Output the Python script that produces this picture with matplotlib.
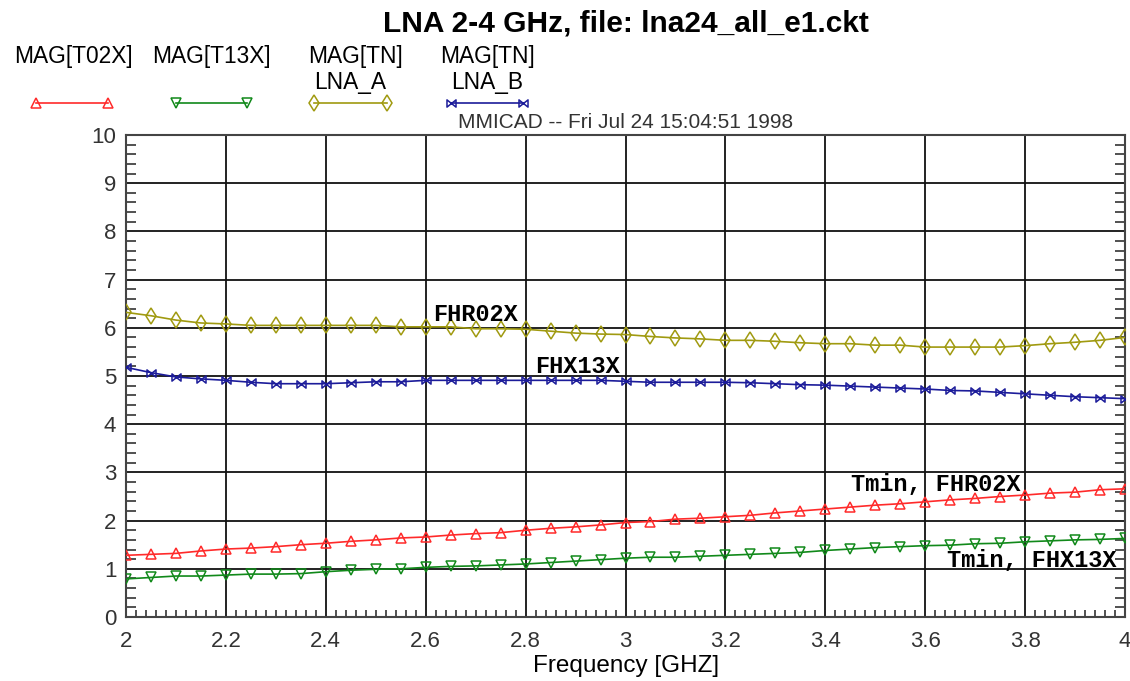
import numpy as np
import matplotlib
matplotlib.use("Agg")
import matplotlib.pyplot as plt
from matplotlib.path import Path
from matplotlib.lines import Line2D
from matplotlib.ticker import MultipleLocator

# ---------------- data ----------------
freq = [2.00, 2.05, 2.10, 2.15, 2.20, 2.25, 2.30, 2.35, 2.40, 2.45,
        2.50, 2.55, 2.60, 2.65, 2.70, 2.75, 2.80, 2.85, 2.90, 2.95,
        3.00, 3.05, 3.10, 3.15, 3.20, 3.25, 3.30, 3.35, 3.40, 3.45,
        3.50, 3.55, 3.60, 3.65, 3.70, 3.75, 3.80, 3.85, 3.90, 3.95, 4.00]

t02x = [1.28, 1.30, 1.32, 1.37, 1.41, 1.43, 1.46, 1.50, 1.53, 1.57,
        1.60, 1.64, 1.66, 1.70, 1.73, 1.75, 1.80, 1.84, 1.87, 1.91,
        1.96, 1.98, 2.03, 2.05, 2.08, 2.11, 2.16, 2.20, 2.24, 2.28,
        2.32, 2.35, 2.39, 2.43, 2.46, 2.50, 2.53, 2.57, 2.59, 2.64, 2.66]

t13x = [0.79, 0.82, 0.85, 0.85, 0.87, 0.89, 0.89, 0.90, 0.94, 0.97,
        0.99, 1.00, 1.03, 1.05, 1.06, 1.08, 1.10, 1.13, 1.16, 1.19,
        1.22, 1.24, 1.24, 1.26, 1.28, 1.30, 1.32, 1.34, 1.38, 1.41,
        1.44, 1.46, 1.48, 1.49, 1.52, 1.53, 1.56, 1.58, 1.60, 1.61, 1.63]

tn_lna_a = [6.32, 6.25, 6.16, 6.10, 6.08, 6.05, 6.05, 6.05, 6.05, 6.05,
            6.05, 6.02, 6.02, 6.02, 5.98, 5.98, 5.97, 5.93, 5.89, 5.87,
            5.86, 5.82, 5.79, 5.77, 5.74, 5.74, 5.72, 5.69, 5.67, 5.67,
            5.64, 5.64, 5.60, 5.60, 5.60, 5.60, 5.63, 5.67, 5.70, 5.74, 5.80]

tn_lna_b = [5.18, 5.07, 4.98, 4.94, 4.91, 4.87, 4.84, 4.84, 4.84, 4.86,
            4.88, 4.88, 4.91, 4.91, 4.91, 4.91, 4.91, 4.91, 4.91, 4.91,
            4.89, 4.87, 4.87, 4.87, 4.87, 4.86, 4.84, 4.82, 4.81, 4.79,
            4.77, 4.75, 4.73, 4.70, 4.69, 4.66, 4.63, 4.60, 4.57, 4.55, 4.53]

x_ticks = [2, 2.2, 2.4, 2.6, 2.8, 3, 3.2, 3.4, 3.6, 3.8, 4]
x_tick_labels = ["2", "2.2", "2.4", "2.6", "2.8", "3", "3.2", "3.4", "3.6", "3.8", "4"]
y_ticks = list(range(0, 11))

legend_labels = ["MAG[T02X]", "MAG[T13X]", "MAG[TN]\nLNA_A", "MAG[TN]\nLNA_B"]
title = "LNA 2-4 GHz, file: lna24_all_e1.ckt"
subtitle = "MMICAD -- Fri Jul 24 15:04:51 1998"
xlabel = "Frequency [GHZ]"

annotations = [("FHR02X", 2.614, 6.15), ("FHX13X", 2.820, 5.06),
               ("Tmin, FHR02X", 3.451, 2.61), ("Tmin, FHX13X", 3.644, 1.04)]

# ---------------- styles ----------------
RED = "#ff2a2a"
GREEN = "#11891a"
OLIVE = "#a09a10"
BLUE = "#1c1c9a"

bowtie = Path([(-1, -0.8), (0, 0), (-1, 0.8), (-1, -0.8),
               (1, -0.8), (0, 0), (1, 0.8), (1, -0.8)],
              [Path.MOVETO, Path.LINETO, Path.LINETO, Path.CLOSEPOLY,
               Path.MOVETO, Path.LINETO, Path.LINETO, Path.CLOSEPOLY])

series = [
    (t02x, RED, "^", 7.5),
    (t13x, GREEN, "v", 7.5),
    (tn_lna_a, OLIVE, "d", 8),
    (tn_lna_b, BLUE, bowtie, 6.5),
]

plt.rcParams['font.family'] = ['Liberation Sans', 'DejaVu Sans']

fig = plt.figure(figsize=(11.30, 6.81), dpi=100)
ax = fig.add_axes([126/1130, 1-617/681, (1125-126)/1130, (617-135)/681])

for ys, col, mk, ms in series:
    ax.plot(freq, ys, color=col, lw=1.2, marker=mk, ms=ms,
            mfc='none', mec=col, mew=1.1, zorder=3)

ax.set_xlim(2, 4)
ax.set_ylim(0, 10)
ax.set_xticks(x_ticks)
ax.set_xticklabels(x_tick_labels)
ax.set_yticks(y_ticks)
ax.xaxis.set_minor_locator(MultipleLocator(0.02))
ax.yaxis.set_minor_locator(MultipleLocator(0.2))
ax.grid(True, which='major', color='#111111', lw=1.3, zorder=1)

ax.tick_params(axis='both', which='major', length=0, labelsize=16,
               labelcolor='#333333')
ax.tick_params(axis='y', which='major', pad=7)
ax.tick_params(axis='x', which='major', pad=10)
ax.tick_params(axis='y', which='minor', direction='in', length=7,
               left=True, right=True, color='#333333', width=1.2)
ax.tick_params(axis='x', which='minor', direction='in', length=5,
               bottom=True, top=False, color='#333333', width=1.2)
for s in ax.spines.values():
    s.set_color('#444444')
    s.set_linewidth(1.5)

for txt, xx, yy in annotations:
    ax.text(xx, yy, txt, family='Liberation Mono', fontweight='bold',
            fontsize=17, ha='left', va='baseline', zorder=4)

# axis label, title and subtitle
fig.text(626/1130, 1-666/681, xlabel, ha='center', va='center', fontsize=17.5)
fig.text(626/1130, 1-23/681, title, ha='center', va='center',
         fontsize=21.5, fontweight='bold')
fig.text(626/1130, 1-122/681, subtitle, ha='center', va='center',
         fontsize=15, color='#333333')

# custom legend
leg_text_x = [73, 211, 356, 488]
leg_line = [(36, 108), (176, 247), (314, 387), (451, 523)]
for (lab, tx, (x0, x1), (ys, col, mk, ms)) in zip(legend_labels, leg_text_x, leg_line, series):
    parts = lab.split("\n")
    fig.text(tx/1130, 1-57/681, parts[0], ha='center', va='center', fontsize=16.4)
    if len(parts) > 1:
        fig.text((x0+x1)/2/1130, 1-83/681, parts[1], ha='center', va='center', fontsize=16.4)
    fig.add_artist(Line2D([x0/1130, x1/1130], [1-103/681, 1-103/681],
                          transform=fig.transFigure, color=col, lw=1.2,
                          marker=mk, ms=ms, mfc='none', mec=col, mew=1.1))

fig.savefig("out.png", dpi=100, facecolor='white')
